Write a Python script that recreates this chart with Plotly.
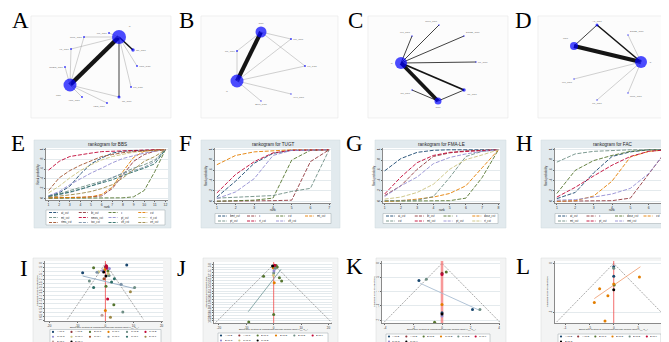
import plotly.graph_objects as go
import math

W, H = 669, 342
SANS = "Liberation Sans"
SERIF = "Liberation Serif"

# ======================= DATA =======================
# ---- Network plots: node layout (panel-local units), node size ~ sample size, edges ~ number of trials
netA_nodes = ["C", "CST", "MT_CST", "RMT_CST", "VT_CST", "NMES_CST", "VRT_CST", "FES_CST", "ST_CST", "PT_CST", "TOT_CST", "ET_CST"]
netA_x = [88, 39, 78, 53, 40, 34, 51, 76, 88, 100, 106, 102]
netA_y = [21, 69, 17, 21, 33, 51, 81, 87, 81, 71, 50, 34]
netA_size = [14, 13, 2, 2, 2, 2, 2, 2, 3, 2, 2, 3.5]
netA_edges = [("C", "CST", 12), ("C", "ET_CST", 4), ("C", "ST_CST", 2), ("C", "MT_CST", 1), ("C", "RMT_CST", 1),
              ("C", "VT_CST", 1), ("C", "TOT_CST", 1), ("C", "PT_CST", 1), ("CST", "VT_CST", 1), ("CST", "RMT_CST", 1),
              ("CST", "NMES_CST", 1), ("CST", "VRT_CST", 1), ("CST", "FES_CST", 1), ("CST", "ST_CST", 1)]

netB_nodes = ["CST", "C", "RT_CST", "MT_CST", "PT_CST", "VFT_CST", "BMT_CST"]
netB_x = [60, 36, 36, 90, 104, 90, 60]
netB_y = [16, 65, 35, 23, 50, 78, 85]
netB_size = [11, 13, 2, 2, 2, 1.5, 1.5]
netB_edges = [("C", "CST", 11), ("CST", "MT_CST", 1), ("CST", "PT_CST", 1), ("CST", "RT_CST", 1), ("C", "RT_CST", 1),
              ("C", "MT_CST", 1), ("C", "PT_CST", 1), ("C", "VFT_CST", 1), ("C", "BMT_CST", 1)]

netC_nodes = ["C", "CST", "RMT_CST", "MT_CST", "DOSE_CST", "PT_CST", "ST_CST", "RT_CST"]
netC_x = [33, 70, 71, 44, 96, 108, 96, 44]
netC_y = [47, 85, 9, 20, 20, 46, 74, 74]
netC_size = [12, 7, 1.5, 1.5, 1.5, 1.5, 3.5, 1.5]
netC_edges = [("C", "CST", 10), ("C", "ST_CST", 5), ("C", "RMT_CST", 2), ("C", "MT_CST", 2), ("C", "DOSE_CST", 2),
              ("C", "PT_CST", 2), ("RT_CST", "CST", 2), ("CST", "ST_CST", 2)]

netD_nodes = ["C", "CST", "AT_CST", "DOSE_CST", "MT_CST", "RMT_CST", "PT_CST"]
netD_x = [103, 36, 59, 90, 36, 90, 59]
netD_y = [46, 30, 9, 19, 63, 77, 84]
netD_size = [12, 8, 3, 1.5, 1.5, 1.5, 1.5]
netD_edges = [("C", "CST", 11), ("AT_CST", "C", 4), ("AT_CST", "CST", 2), ("C", "DOSE_CST", 1), ("C", "MT_CST", 1),
              ("C", "RMT_CST", 1), ("C", "PT_CST", 1)]

# ---- Rankograms (cumulative rank probabilities)
E_names = ["at_cst", "bt_cst", "c", "cst", "mt_cst", "nmes_cst", "pt_cst", "rt_cst", "rtms_cst", "tov_cst", "vft_cst", "vrt_cst"]
E_prob = [
    [0.05, 0.11, 0.25, 0.50, 0.71, 0.83, 0.93, 0.97, 0.98, 0.99, 1, 1],
    [0.01, 0.01, 0.02, 0.02, 0.03, 0.05, 0.20, 0.49, 0.76, 0.90, 0.97, 1],
    [0, 0, 0, 0, 0, 0, 0, 0.01, 0.03, 0.16, 0.55, 1],
    [0.01, 0.01, 0.02, 0.02, 0.03, 0.08, 0.23, 0.55, 0.84, 0.97, 0.99, 1],
    [0.04, 0.09, 0.16, 0.23, 0.29, 0.35, 0.42, 0.52, 0.62, 0.69, 0.79, 1],
    [0.58, 0.76, 0.86, 0.90, 0.93, 0.96, 0.97, 0.98, 0.99, 0.99, 1, 1],
    [0.05, 0.14, 0.28, 0.40, 0.52, 0.62, 0.73, 0.82, 0.88, 0.93, 0.97, 1],
    [0.11, 0.25, 0.42, 0.57, 0.69, 0.79, 0.86, 0.91, 0.95, 0.97, 0.99, 1],
    [0.16, 0.42, 0.57, 0.68, 0.77, 0.86, 0.90, 0.94, 0.96, 0.98, 0.99, 1],
    [0.03, 0.07, 0.12, 0.18, 0.25, 0.33, 0.43, 0.51, 0.57, 0.64, 0.76, 1],
    [0.04, 0.08, 0.13, 0.19, 0.25, 0.32, 0.38, 0.47, 0.54, 0.62, 0.71, 1],
    [0.02, 0.04, 0.07, 0.10, 0.14, 0.20, 0.28, 0.42, 0.59, 0.76, 0.86, 1],
]
F_names = ["bmt_cst", "c", "cst", "mt_cst", "pt_cst", "rt_cst", "vft_cst"]
F_prob = [
    [0.08, 0.39, 0.74, 0.93, 0.99, 1, 1],
    [0, 0, 0.01, 0.01, 0.02, 0.77, 1],
    [0, 0.01, 0.02, 0.06, 0.80, 0.99, 1],
    [0.71, 0.89, 0.96, 0.98, 1, 1, 1],
    [0.06, 0.08, 0.10, 0.11, 0.19, 0.25, 1],
    [0.16, 0.52, 0.77, 0.94, 0.99, 1, 1],
    [0.05, 0.18, 0.44, 0.89, 0.99, 1, 1],
]
G_names = ["ai_cst", "bt_cst", "c", "dose_cst", "cst", "mt_cst", "pt_cst", "rt_cst"]
G_prob = [
    [0.59, 0.83, 0.95, 0.99, 1, 1, 1, 1],
    [0.11, 0.30, 0.62, 0.87, 0.94, 0.98, 0.99, 1],
    [0, 0, 0, 0, 0.01, 0.06, 0.46, 1],
    [0, 0.01, 0.04, 0.08, 0.15, 0.30, 0.65, 1],
    [0.01, 0.01, 0.02, 0.09, 0.46, 0.87, 0.97, 1],
    [0.14, 0.47, 0.75, 0.89, 0.95, 0.97, 0.99, 1],
    [0.09, 0.30, 0.47, 0.73, 0.85, 0.92, 0.97, 1],
    [0.04, 0.08, 0.17, 0.33, 0.62, 0.81, 0.90, 1],
]
H_names = ["at_cst", "c", "dose_cst", "cst", "mt_cst", "pt_cst", "rmt_cst"]
H_prob = [
    [0.05, 0.17, 0.55, 0.87, 0.96, 1, 1],
    [0, 0, 0, 0.01, 0.06, 0.52, 1],
    [0.15, 0.60, 0.79, 0.89, 0.97, 1, 1],
    [0, 0.01, 0.10, 0.39, 0.86, 0.97, 1],
    [0.76, 0.92, 0.97, 0.99, 1, 1, 1],
    [0.08, 0.27, 0.49, 0.70, 0.87, 0.97, 1],
    [0.02, 0.03, 0.08, 0.14, 0.25, 0.54, 1],
]
rank_yticks = [0, 0.2, 0.4, 0.6, 0.8, 1]
rank_yticktext = ["0", ".2", ".4", ".6", ".8", "1"]

# ---- Comparison-adjusted funnel plots
I_names = ["A vs C", "A vs D", "B vs C", "C vs F", "C vs D", "C vs E", "C vs G", "C vs H", "C vs I", "C vs K",
           "C vs L", "D vs J", "D vs F", "D vs H"]
I_x = [7.6, -8.1, -4.2, 0.0, 0.6, 1.4, 0.9, -0.6, -3.0, -2.4, 0.2, 1.3, -0.5, 3.2, -5.7, 0.2, -4.2, 5.6, 10.4, 8.9,
       0.8, 3.0, 0.0, 6.2, -1.2, 1.8, 0.3, -0.2, 1.0, 2.2, -1.0, 0.4]
I_se = [0.2, 1.14, 0.53, 0.45, 0.6, 0.64, 0.93, 1.06, 1.1, 1.02, 1.55, 1.5, 1.9, 1.88, 2.16, 2.8, 2.98, 2.57, 2.98,
        3.5, 4.4, 5.1, 5.8, 6.0, 6.4, 6.65, 0.3, 0.75, 1.25, 2.3, 0.9, 0.35]
I_cmp = [0, 0, 2, 1, 5, 6, 2, 13, 9, 7, 13, 4, 8, 10, 4, 2, 10, 9, 4, 11, 5, 2, 3, 4, 12, 11, 5, 3, 7, 10, 6, 1]
I_semax = 6.9
I_fit_x = [-8.1, 10.4]
I_fit_se = [1.55, 3.1]
I_xticks = [-20, -10, 0, 10, 20]
I_yticks = [0, 0.5, 1, 1.5, 2, 2.5, 3, 3.5, 4, 4.5, 5, 5.5, 6, 6.5, 7]

J_names = ["A vs B", "A vs C", "B vs C", "B vs D", "B vs E", "B vs F", "B vs G", "C vs G", "C vs D"]
J_x = [0.0, 0.3, 0.9, 1.3, -0.4, 0.6, -0.2, 0.1, 0.0, -3.7, 2.1, 2.9, 0.2, 0.0, -9.1, 0.4, -0.1]
J_se = [0.5, 0.3, 0.2, 0.5, 0.3, 0.7, 0.6, 1.2, 1.6, 2.2, 2.5, 3.1, 3.4, 9.3, 10.7, 0.15, 2.0]
J_cmp = [0, 1, 2, 2, 8, 4, 3, 6, 4, 2, 2, 2, 3, 2, 2, 5, 7]
J_semax = 10.8
J_fit_x = [-9.3, 2.7]
J_fit_se = [8.8, 0.9]
J_xticks = [-20, -10, 0, 10, 20]
J_yticks = [0, 0.5, 1, 1.5, 2, 2.5, 3, 3.5, 4, 4.5, 5, 5.5, 6, 6.5, 7, 7.5, 8, 8.5, 9, 9.5, 10, 10.5]

K_names = ["A vs B", "A vs E", "B vs E", "C vs B", "C vs E", "C vs F", "C vs G", "C vs H"]
K_x = [-1.62, -1.1, 0.0, 0.0, 0.3, 0.0, 0.0, 0.0, 0.0, 2.14, 2.66, -0.52]
K_se = [0.6, 0.56, 0.35, 0.39, 0.3, 1.45, 1.74, 1.78, 1.85, 1.62, 1.62, 2.07]
K_cmp = [0, 4, 1, 5, 2, 3, 0, 7, 6, 0, 4, 2]
K_semax = 2.07
K_fit_x = [-1.53, 2.66]
K_fit_se = [0.7, 1.66]
K_xticks = [-4, -2, 0, 2, 4]
K_yticks = [0, 0.5, 1, 1.5, 2]

L_names = ["A vs B", "A vs E", "B vs C", "B vs D", "B vs E", "B vs F", "B vs G"]
L_x = [0.0, 0.0, 0.0, 0.53, -0.29, -0.12, -0.4, 0.0, 0.01, 0.0, -0.18]
L_se = [0.034, 0.05, 0.13, 0.14, 0.26, 0.33, 0.4, 0.21, 0.22, 0.27, 0.59]
L_cmp = [0, 4, 0, 3, 3, 3, 3, 3, 2, 6, 3]
L_semax = 0.6
L_fit_x = [-0.4, 0.55]
L_fit_se = [0.36, 0.034]
L_xticks = [-1, -0.5, 0, 0.5, 1]
L_yticks = [0, 0.5]

# ======================= STYLE =======================
PAL = ["#1a476f", "#90353b", "#55752f", "#e37e00", "#6e8e84", "#c10534", "#938dd2", "#cac27e",
       "#a0522d", "#7b92a8", "#2d6d66", "#9c8847", "#bfa19c", "#000000"]

fig = go.Figure()
layout = {}
shapes, annots = [], []


def X(p):
    return p / W


def Y(p):
    return 1 - p / H


def rect(box, fill, line, lw=0.6):
    x0, y0, x1, y1 = box
    shapes.append(dict(type="rect", xref="paper", yref="paper", x0=X(x0), x1=X(x1), y0=Y(y1), y1=Y(y0),
                       fillcolor=fill, line=dict(color=line, width=lw), layer="below"))


def text(x, y, s, size, xanchor="center", yanchor="middle", angle=0, color="#222", family=SANS, width=None):
    a = dict(xref="paper", yref="paper", x=X(x), y=Y(y), text=s, showarrow=False, xanchor=xanchor,
             yanchor=yanchor, textangle=angle, borderpad=0,
             font=dict(size=size, color=color, family=family))
    if width is not None:
        a["width"] = width
        a["align"] = "left"
    annots.append(a)


def axes(i, box, xr, yr, xkw=None, ykw=None):
    x0, y0, x1, y1 = box
    xn = "xaxis" if i == 1 else f"xaxis{i}"
    yn = "yaxis" if i == 1 else f"yaxis{i}"
    xa = "x" if i == 1 else f"x{i}"
    ya = "y" if i == 1 else f"y{i}"
    xd = dict(domain=[X(x0), X(x1)], range=xr, anchor=ya, automargin=False, fixedrange=True)
    yd = dict(domain=[Y(y1), Y(y0)], range=yr, anchor=xa, automargin=False, fixedrange=True)
    xd.update(xkw or {})
    yd.update(ykw or {})
    layout[xn] = xd
    layout[yn] = yd
    return xa, ya


def tickstyle(vals, labels, grid=False, angle=0, size=3.4):
    return dict(tickmode="array", tickvals=vals, ticktext=labels, ticks="outside", ticklen=1.2, tickwidth=0.5,
                tickcolor="#666", tickfont=dict(size=size, color="#333", family=SANS), tickangle=angle,
                showgrid=grid, gridcolor="#e4eaed", gridwidth=0.5, showline=True, linecolor="#8a8a8a",
                linewidth=0.5, zeroline=False)


def fmt(v):
    s = ("%g" % v)
    if s.startswith("0."):
        s = s[1:]
    if s.startswith("-0."):
        s = "-" + s[2:]
    return s


# ---------- network panels ----------
def build_network(i, box, nodes, nx_, ny_, sizes, edges, labelpos):
    x0, y0, x1, y1 = box
    rect(box, "#fcfcfc", "#e6e6e6", 0.6)
    hid = dict(visible=False, showgrid=False, zeroline=False)
    xa, ya = axes(i, box, [0, x1 - x0], [y1 - y0, 0], hid, hid)
    idx = {n: k for k, n in enumerate(nodes)}
    for a, b, n in edges:
        ia, ib = idx[a], idx[b]
        w = 0.45 + 0.36 * (n - 1)
        col = "#999999" if n <= 1 else "#151515"
        fig.add_trace(go.Scatter(x=[nx_[ia], nx_[ib]], y=[ny_[ia], ny_[ib]], mode="lines",
                                 line=dict(color=col, width=w), xaxis=xa, yaxis=ya, hoverinfo="skip",
                                 cliponaxis=False))
    fig.add_trace(go.Scatter(x=nx_, y=ny_, mode="markers+text",
                             marker=dict(color="#0000ff", size=sizes, line=dict(width=0)),
                             text=nodes, textposition=labelpos,
                             textfont=dict(size=2.5, color="#707070", family=SANS),
                             xaxis=xa, yaxis=ya, cliponaxis=False))


build_network(1, (23, 8, 163, 110), netA_nodes, netA_x, netA_y, netA_size, netA_edges,
              ["top right", "bottom left", "middle left", "middle left", "middle left", "middle left",
               "bottom left", "bottom left", "bottom right", "middle right", "middle right", "middle right"])
build_network(2, (193, 8, 330, 110), netB_nodes, netB_x, netB_y, netB_size, netB_edges,
              ["top center", "bottom left", "middle left", "middle right", "middle right", "bottom right",
               "bottom center"])
build_network(3, (360, 8, 500, 110), netC_nodes, netC_x, netC_y, netC_size, netC_edges,
              ["middle left", "bottom center", "top left", "top left", "top right", "middle right",
               "bottom right", "bottom left"])
build_network(4, (530, 8, 665, 110), netD_nodes, netD_x, netD_y, netD_size, netD_edges,
              ["middle right", "top left", "top center", "top right", "bottom left", "bottom right",
               "bottom center"])


# ---------- rankogram panels ----------
def build_rank(i, outer, plot, title, names, probs, xr, xtitle_y, legbox, ncol):
    rect(outer, "#e2eaee", "#cfd9dd", 0.5)
    rect(plot, "#ffffff", "rgba(0,0,0,0)", 0)
    n = len(probs[0])
    ranks = list(range(1, n + 1))
    xa, ya = axes(i, plot, xr, [-0.035, 1.035],
                  tickstyle(ranks, [str(r) for r in ranks]),
                  tickstyle(rank_yticks, rank_yticktext, grid=True, angle=-90))
    for k, (nm, p) in enumerate(zip(names, probs)):
        fig.add_trace(go.Scatter(x=ranks, y=p, mode="lines", name=nm,
                                 line=dict(color=PAL[k], width=0.9, dash="4px,1.6px"),
                                 xaxis=xa, yaxis=ya, hoverinfo="skip"))
    px0, py0, px1, py1 = plot
    text((px0 + px1) / 2, py0 - 3.6, title, 4.6, color="#1e1e1e")
    text(px0 - 8.5, (py0 + py1) / 2, "Rank probability", 2.8, angle=-90)
    text((px0 + px1) / 2, xtitle_y, "rank", 3.0)
    lx0, ly0, lx1, ly1 = legbox
    rect(legbox, "#ffffff", "#9aa6ab", 0.5)
    nrow = math.ceil(len(names) / ncol)
    colw = (lx1 - lx0) / ncol
    rowh = (ly1 - ly0) / nrow
    for k, nm in enumerate(names):
        r, c = divmod(k, ncol)
        cx = lx0 + 3 + c * colw
        cy = ly0 + rowh * (r + 0.5)
        shapes.append(dict(type="line", xref="paper", yref="paper", x0=X(cx), x1=X(cx + 9), y0=Y(cy), y1=Y(cy),
                           line=dict(color=PAL[k], width=0.9, dash="3px,1.2px")))
        text(cx + 11, cy, nm, 2.8, xanchor="left", width=colw - 13)


build_rank(5, (26, 132, 163, 220), (38, 140, 160, 192), "rankogram for BBS", E_names, E_prob,
           [0.76, 12.24], 199.0, (38, 202, 157, 217), 4)
build_rank(6, (193, 132, 332, 220), (207, 140, 323, 195), "rankogram for TUGT", F_names, F_prob,
           [0.9, 7.1], 201.6, (207, 205.5, 323, 215.5), 4)
build_rank(7, (367, 132, 498, 220), (375, 140, 492, 195), "rankogram for FMA-LE", G_names, G_prob,
           [0.9, 8.1], 201.6, (375, 205.5, 490, 215.5), 4)
build_rank(8, (533, 132, 666, 220), (547, 140, 661, 195), "rankogram for FAC", H_names, H_prob,
           [0.9, 7.1], 201.6, (547, 205.5, 661, 215.5), 4)


# ---------- funnel panels ----------
def build_funnel(i, outer, plot, names, xs, ses, cmps, semax, fitx, fitse, fitcol, xr, yr, xticks, yticks,
                 xtitle_y, legbox, band=False):
    rect(outer, "#f3f4f4", "#d6dada", 0.5)
    rect(plot, "#ffffff", "rgba(0,0,0,0)", 0)
    xa, ya = axes(i, plot, xr, yr,
                  tickstyle(xticks, [fmt(v) for v in xticks], size=3.0),
                  tickstyle(yticks, [fmt(v) for v in yticks], grid=True, angle=-90, size=2.6))
    cols = PAL[:len(names) - 1] + ["#000000"]
    lim = 1.96 * semax
    fig.add_trace(go.Scatter(x=[-lim, 0, lim], y=[semax, 0, semax], mode="lines",
                             line=dict(color="#6f6f6f", width=0.6, dash="2px,1.2px"),
                             xaxis=xa, yaxis=ya, hoverinfo="skip"))
    if band:
        fig.add_trace(go.Scatter(x=[0, 0], y=[yr[1], yr[0]], mode="lines",
                                 line=dict(color="rgba(250,150,150,0.45)", width=3.2),
                                 xaxis=xa, yaxis=ya, hoverinfo="skip"))
    fig.add_trace(go.Scatter(x=[0, 0], y=[yr[1], yr[0]], mode="lines",
                             line=dict(color="#f04848", width=0.8),
                             xaxis=xa, yaxis=ya, hoverinfo="skip"))
    fig.add_trace(go.Scatter(x=fitx, y=fitse, mode="lines", line=dict(color=fitcol, width=0.9),
                             xaxis=xa, yaxis=ya, hoverinfo="skip"))
    for k, nm in enumerate(names):
        px_ = [x for x, c in zip(xs, cmps) if c == k]
        py_ = [s for s, c in zip(ses, cmps) if c == k]
        if px_:
            fig.add_trace(go.Scatter(x=px_, y=py_, mode="markers", name=nm,
                                     marker=dict(color=cols[k], size=3, line=dict(width=0)),
                                     xaxis=xa, yaxis=ya, hoverinfo="skip", cliponaxis=False))
    p0, q0, p1, q1 = plot
    text((p0 + p1) / 2, xtitle_y,
         "Effect size centred at comparison-specific pooled effect (y<sub>iXY</sub>-\u03bc<sub>XY</sub>)", 2.4)
    text(p0 - 8, (q0 + q1) / 2, "Standard error of effect size", 2.5, angle=-90)
    lx0, ly0, lx1, ly1 = legbox
    rect(legbox, "#ffffff", "#9aa6ab", 0.5)
    ncol = 6
    nrow = math.ceil(len(names) / ncol)
    colw = (lx1 - lx0) / ncol
    rowh = (ly1 - ly0) / nrow
    for k, nm in enumerate(names):
        r, c = divmod(k, ncol)
        cx = lx0 + 3 + c * colw
        cy = ly0 + rowh * (r + 0.5)
        shapes.append(dict(type="circle", xref="paper", yref="paper", x0=X(cx - 1.1), x1=X(cx + 1.1),
                           y0=Y(cy + 1.1), y1=Y(cy - 1.1), fillcolor=cols[k], line=dict(width=0)))
        text(cx + 2.5, cy, nm, 2.5, xanchor="left", width=colw - 4)


build_funnel(9, (25, 250, 163, 341), (37, 253, 155, 313), I_names, I_x, I_se, I_cmp, I_semax, I_fit_x, I_fit_se,
             "#93acc4", [-21.5, 20.5], [7.1, -0.3], I_xticks, I_yticks, 319.0, (42, 321.5, 153, 336))
build_funnel(10, (195, 250, 330, 340), (206, 254, 324, 315), J_names, J_x, J_se, J_cmp, J_semax, J_fit_x,
             J_fit_se, "#7fa3a3", [-21.8, 21.3], [10.9, -0.45], J_xticks, J_yticks, 321.5, (210, 325, 320, 335))
build_funnel(11, (368, 250, 498, 341), (374, 253, 492, 315), K_names, K_x, K_se, K_cmp, K_semax, K_fit_x,
             K_fit_se, "#a9bdd2", [-4.21, 4.07], [2.1, -0.085], K_xticks, K_yticks, 321.5, (378, 326, 482, 336),
             band=True)
build_funnel(12, (533, 250, 666, 341), (547, 253, 663, 315), L_names, L_x, L_se, L_cmp, L_semax, L_fit_x,
             L_fit_se, "#f0a47a", [-1.21, 1.18], [0.61, -0.025], L_xticks, L_yticks, 321.5, (550, 326, 653, 336))

# ---------- panel letters ----------
letters = ["A", "B", "C", "D", "E", "F", "G", "H", "I", "J", "K", "L"]
letter_pos = [(12, 13), (178, 13), (347, 13), (515, 13), (10, 135), (177, 135), (346, 135), (516, 135),
              (16, 260), (174, 260), (346, 258.5), (515, 258.5)]
for s, (lx, ly) in zip(letters, letter_pos):
    text(lx, ly, s, 23, family=SERIF, color="#000")

layout.update(dict(width=W, height=H, margin=dict(l=0, r=0, t=0, b=0), template="none",
                   paper_bgcolor="white", plot_bgcolor="rgba(0,0,0,0)", showlegend=False,
                   shapes=shapes, annotations=annots, font=dict(family=SANS, color="#222")))
fig.update_layout(**layout)
fig.write_html("out.html")
